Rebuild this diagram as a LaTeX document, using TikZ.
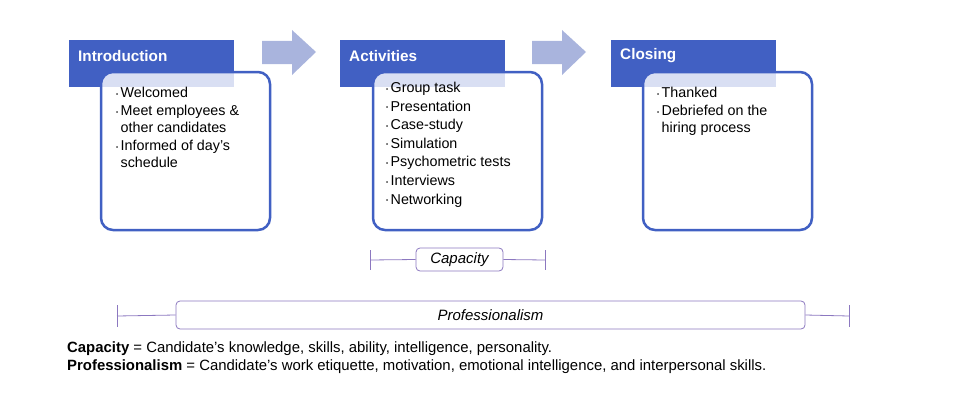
\documentclass[tikz,border=0pt]{standalone}
\usepackage{fontspec}
\setmainfont{Liberation Sans}
\newcommand{\bul}{\raisebox{1.5pt}{\fontsize{6}{6}\selectfont\textbullet}\,}
\newcommand{\bsp}{\hphantom{\bul}}
\begin{document}
\begin{tikzpicture}[x=1pt,y=-1pt,
  box/.style={draw=hblue,line width=2.5pt,rounded corners=12pt,fill=white,fill opacity=0.8,draw opacity=1},
  arr/.style={fill=ablue,draw=none},
  itm/.style={anchor=north west,align=left,font=\fontsize{14.3}{17}\selectfont,inner sep=0},
  br/.style={draw=pur,line width=0.8pt},
  brb/.style={draw=pur,line width=0.8pt,rounded corners=4pt,fill=white,font=\itshape\fontsize{15}{18}\selectfont}]
\definecolor{hblue}{HTML}{4160C3}
\definecolor{ablue}{HTML}{A9B4DD}
\definecolor{pur}{HTML}{8C78C0}
\useasboundingbox (0,0) rectangle (960,404);
% headers and boxes
\foreach \n/\hx/\bx/\t in {a/69/101/Introduction,b/340/373/Activities,c/611/643/Closing}{
  \fill[hblue] (\hx,40) rectangle +(165,47);
  \node[text=white,font=\bfseries\fontsize{15.3}{18}\selectfont,anchor=west,inner sep=0] (h\n) at (\hx+9,56) {\t};
  \draw[box] (\bx,72) rectangle +(169,158);
}
\foreach \x/\n in {262/a1,532/a2}{
  \fill[arr] (\x,41) -- (\x+30,41) -- (\x+30,30) -- (\x+54,52) -- (\x+30,75) -- (\x+30,64) -- (\x,64) -- cycle;
}
\node[itm] (ta) at (116,87) {\bul Welcomed\\[1pt]\bul Meet employees \&\\\bsp other candidates\\[1pt]\bul Informed of day's\\\bsp schedule};
\node[itm,font=\fontsize{14.3}{18.6}\selectfont] (tb) at (386,82) {\bul Group task\\\bul Presentation\\\bul Case-study\\\bul Simulation\\\bul Psychometric tests\\\bul Interviews\\\bul Networking};
\node[itm] (tc) at (657,87) {\bul Thanked\\[1pt]\bul Debriefed on the\\\bsp hiring process};
% capacity
\coordinate (cl) at (370,260); \coordinate (cr) at (545,260);
\draw[br] (370,250) -- (370,270); \draw[br] (545,250) -- (545,270);
\node[brb,minimum width=87pt,minimum height=23pt,inner sep=0] (cap) at (459.5,259.5) {Capacity};
\draw[br] (cl) -- (cap.west); \draw[br] (cap.east) -- (cr);
% professionalism
\coordinate (pl) at (117,316); \coordinate (pr) at (849,316);
\draw[br] (117,305) -- (117,327); \draw[br] (849,305) -- (849,327);
\node[brb,minimum width=629pt,minimum height=28pt,inner sep=0] (pro) at (490.5,315) {Professionalism};
\draw[br] (pl) -- (pro.west); \draw[br] (pro.east) -- (pr);
\node[anchor=west,inner sep=0,font=\fontsize{14.9}{16}\selectfont] (l1) at (67,349) {\textbf{Capacity} = Candidate’s knowledge, skills, ability, intelligence, personality.};
\node[anchor=west,inner sep=0,font=\fontsize{14.9}{16}\selectfont] (l2) at (67,367) {\textbf{Professionalism} = Candidate’s work etiquette, motivation, emotional intelligence, and interpersonal skills.};
\end{tikzpicture}
\end{document}
